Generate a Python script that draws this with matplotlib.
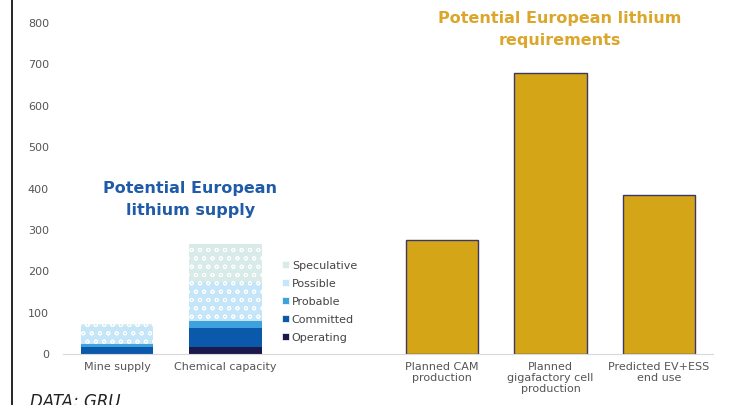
import numpy as np
import matplotlib.pyplot as plt
from matplotlib.patches import Patch

# supply side (stacked)
supply_cats = ["Mine supply", "Chemical capacity"]
operating = [0, 16]
committed = [16, 46]
probable = [7, 17]
possible = [45, 94]
speculative = [5, 94]

# requirements side
req_cats = ["Planned CAM\nproduction", "Planned\ngigafactory cell\nproduction", "Predicted EV+ESS\nend use"]
req_vals = [275, 680, 385]

stack_names = ["Operating", "Committed", "Probable", "Possible", "Speculative"]
stack_cols = ["#1c1a4a", "#0b59aa", "#3fa2dd", "#c4e6f8", "#d8ebe9"]
stack_hatch = [None, None, None, "oo", "oo"]

plt.rcParams["hatch.linewidth"] = 0.6

fig = plt.figure(figsize=(7.4, 4.05), dpi=100)
ax = fig.add_axes([0.085, 0.126, 0.8785, 0.817])

sx = np.array([0, 1])
rx = np.array([3, 4, 5])
w = 0.67

bottom = np.zeros(2)
handles = []
for name, vals, col, h in zip(stack_names, [operating, committed, probable, possible, speculative], stack_cols, stack_hatch):
    if h:
        ax.bar(sx, vals, w, bottom=bottom, color=col, hatch=h, edgecolor="white", linewidth=0)
    else:
        ax.bar(sx, vals, w, bottom=bottom, color=col, linewidth=0)
    bottom += np.array(vals)
    handles.append(Patch(facecolor=col, edgecolor="white", linewidth=0.5, label=name))

ax.bar(rx, req_vals, w, color="#d4a517", edgecolor="#3d3763", linewidth=1)

ax.set_xlim(-0.5, 5.5)
ax.set_ylim(0, 800)
ax.set_yticks(range(0, 801, 100))
ax.set_xticks(list(sx) + list(rx))
ax.set_xticklabels(supply_cats + req_cats, fontsize=8, color="#555555", linespacing=1.1)
ax.tick_params(axis="y", labelsize=8, labelcolor="#555555", length=0, pad=10)
ax.tick_params(axis="x", length=0, pad=6)
for s in ["top", "right", "left"]:
    ax.spines[s].set_visible(False)
ax.spines["bottom"].set_color("#d9d9d9")

leg = ax.legend(handles=handles[::-1], loc="upper left", bbox_to_anchor=(0.33, 0.295),
                frameon=False, fontsize=8, handlelength=0.6, handleheight=0.6,
                handletextpad=0.3, labelspacing=0.72, borderaxespad=0)
for t in leg.get_texts():
    t.set_color("#444444")

fig.text(0.257, 0.508, "Potential European\nlithium supply", ha="center", va="center",
         fontsize=11.5, fontweight="bold", color="#1f5ba8", linespacing=1.6)
fig.text(0.757, 0.928, "Potential European lithium\nrequirements", ha="center", va="center",
         fontsize=11.5, fontweight="bold", color="#dba62a", linespacing=1.6)

fig.add_artist(plt.Line2D([0.0165, 0.0165], [0, 1], color="black", linewidth=1.2))
fig.text(0.04, -0.015, "DATA: GRU", fontsize=12, style="italic", color="#222222", va="bottom")

fig.savefig("out.png", dpi=100)
